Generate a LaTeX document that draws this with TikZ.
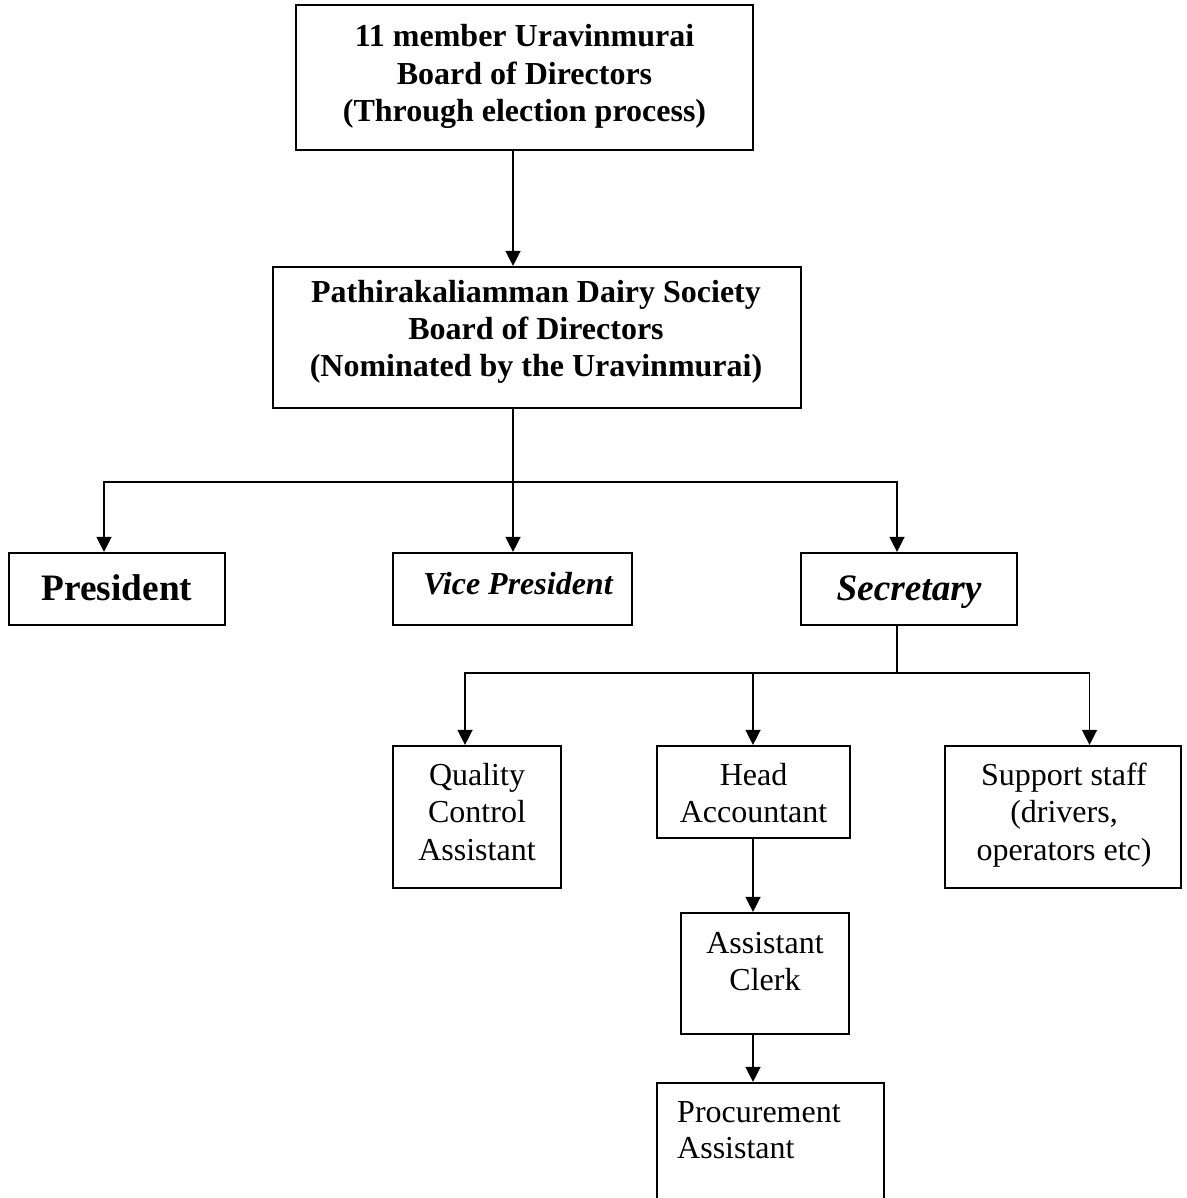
\documentclass[tikz,border=0pt]{standalone}
\usepackage{fontspec}
\setmainfont{Liberation Serif}
\usetikzlibrary{arrows.meta}
\begin{document}
\begin{tikzpicture}[x=1pt,y=-1pt,
  box/.style={draw=black,line width=2.2pt,rectangle,inner sep=0pt},
  conn/.style={draw=black,line width=1.4pt,line join=miter},
  arr/.style={conn,-{Triangle[width=15pt,length=15pt]}},
  lbl/.style={anchor=base,inner sep=0pt,font=\fontsize{32}{37}\selectfont},
  blbl/.style={anchor=base,inner sep=0pt,font=\fontsize{32}{37}\selectfont\bfseries},
  llbl/.style={anchor=base west,inner sep=0pt,font=\fontsize{32}{37}\selectfont},
]
\clip (0,0) rectangle (1186,1198);
\fill[white] (0,0) rectangle (1186,1198);

% boxes
\node[box,minimum width=457pt,minimum height=145pt] (top) at (524.5,77.5) {};
\node[box,minimum width=528pt,minimum height=141pt] (bd) at (537,337.5) {};
\node[box,minimum width=216pt,minimum height=72pt] (pres) at (117,589) {};
\node[box,minimum width=239pt,minimum height=72pt] (vp) at (512.5,589) {};
\node[box,minimum width=216pt,minimum height=72pt] (sec) at (909,589) {};
\node[box,minimum width=168pt,minimum height=142pt] (qc) at (477,817) {};
\node[box,minimum width=193pt,minimum height=92pt] (head) at (753.5,792) {};
\node[box,minimum width=236pt,minimum height=142pt] (sup) at (1063,817) {};
\node[box,minimum width=168pt,minimum height=121pt] (clerk) at (765,973.5) {};
\node[box,minimum width=227pt,minimum height=137pt] (proc) at (770.5,1151.5) {};

% texts
\node[blbl] (top1) at (524.5,47) {11 member Uravinmurai};
\node[blbl] (top2) at (524.5,84.5) {Board of Directors};
\node[blbl] (top3) at (524.5,122) {(Through election process)};
\node[blbl] (bd1) at (536,302) {Pathirakaliamman Dairy Society};
\node[blbl] (bd2) at (536,339) {Board of Directors};
\node[blbl] (bd3) at (536,376) {(Nominated by the Uravinmurai)};
\node[anchor=base,inner sep=0pt,font=\fontsize{37.3}{43}\selectfont\bfseries] (prest) at (117,600) {President};
\node[anchor=base,inner sep=0pt,font=\fontsize{32}{37}\selectfont\bfseries\itshape] (vpt) at (518,594) {Vice President};
\node[anchor=base,inner sep=0pt,font=\fontsize{37.3}{43}\selectfont\bfseries\itshape] (sect) at (909,600) {Secretary};
\node[lbl] (qc1) at (477,785) {Quality};
\node[lbl] (qc2) at (477,822.5) {Control};
\node[lbl] (qc3) at (477,860) {Assistant};
\node[lbl] (head1) at (753.5,785) {Head};
\node[lbl] (head2) at (753.5,822.5) {Accountant};
\node[lbl] (sup1) at (1064,785) {Support staff};
\node[lbl] (sup2) at (1064,822.5) {(drivers,};
\node[lbl] (sup3) at (1064,860) {operators etc)};
\node[lbl] (clerk1) at (765,953) {Assistant};
\node[lbl] (clerk2) at (765,990) {Clerk};
\node[llbl] (proc1) at (677,1122) {Procurement};
\node[llbl] (proc2) at (677,1158) {Assistant};

% junction coordinates
\coordinate (c1) at (513,482);
\coordinate (jL) at (104,482);
\coordinate (jR) at (897,482);
\coordinate (c2) at (897,673);
\coordinate (kL) at (465,673);
\coordinate (kM) at (753,673);
\coordinate (kR) at (1089.5,673);

% connectors
\draw[arr] (top.south -| c1) -- (bd.north -| c1);
\draw[conn] (bd.south -| c1) -- (c1);
\draw[arr] (c1) -- (jL) -- (jL |- pres.north);
\draw[arr] (c1) -- (c1 |- vp.north);
\draw[arr] (c1) -- (jR) -- (jR |- sec.north);

\draw[conn] (sec.south -| c2) -- (c2);
\draw[arr] (c2) -- (kL) -- (kL |- qc.north);
\draw[arr] (kM) -- (kM |- head.north);
\draw[arr] (c2) -- (kR) -- (kR |- sup.north);

\draw[arr] (head.south -| kM) -- (kM |- clerk.north);
\draw[arr] (clerk.south -| kM) -- (kM |- proc.north);
\end{tikzpicture}
\end{document}
